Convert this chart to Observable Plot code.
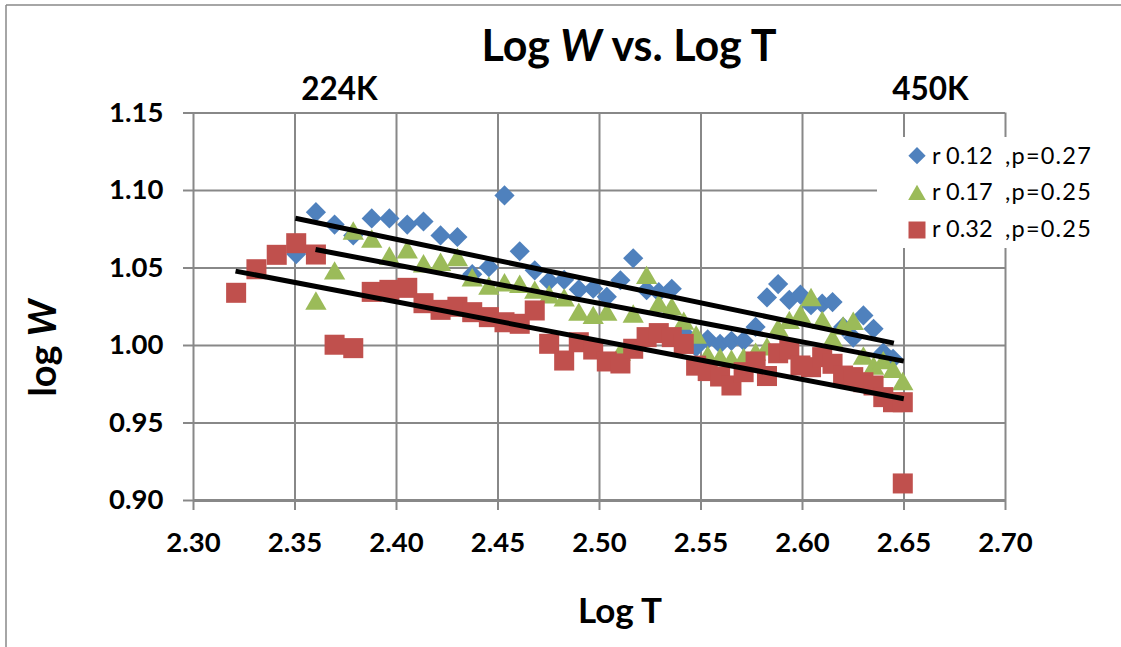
<!DOCTYPE html>
<html>
<head>
<meta charset="utf-8">
<script src="https://cdn.jsdelivr.net/npm/d3@7"></script>
<script src="https://cdn.jsdelivr.net/npm/@observablehq/plot@0.6"></script>
<style>
  html, body { margin: 0; padding: 0; background: white; }
  #chart svg { display: block; }
</style>
</head>
<body>
<div id="chart"></div>
<script>
// ---- data ----
const logT = [2.321, 2.331, 2.341, 2.3506, 2.3603, 2.3695, 2.3787, 2.3878, 2.3965, 2.4053,
  2.4133, 2.4217, 2.4300, 2.4373, 2.4455, 2.4532, 2.4607, 2.4681, 2.4752, 2.4826,
  2.4898, 2.4969, 2.5036, 2.5103, 2.5166, 2.5232, 2.5292, 2.5356, 2.5415, 2.5476,
  2.5533, 2.5594, 2.5650, 2.5710, 2.5769, 2.5825, 2.5880, 2.5935, 2.5990, 2.6042,
  2.6097, 2.6148, 2.6200, 2.6250, 2.6300, 2.6350, 2.6398, 2.6446, 2.6494];

const blueLogW = [null, null, null, 1.059, 1.086, 1.078, 1.071, 1.082, 1.082, 1.078,
  1.080, 1.071, 1.070, 1.046, 1.0505, 1.0968, 1.0608, 1.0485, 1.0415, 1.0424,
  1.0362, 1.0366, 1.0314, 1.0421, 1.0563, 1.0357, 1.0344, 1.0366, 1.008, 0.999,
  1.004, 1.001, 1.003, 1.003, 1.012, 1.031, 1.0396, 1.0295, 1.0328, 1.026,
  1.027, 1.028, 1.012, 1.005, 1.0194, 1.0108, 0.9954, 0.9914, null];

const greenLogW = [null, null, null, null, 1.029, 1.0484, 1.0742, 1.069, 1.058, 1.062,
  1.053, 1.054, 1.057, 1.044, 1.0387, 1.0408, 1.0398, 1.036, 1.033, 1.031,
  1.0218, 1.0197, 1.0218, 0.996, 1.0206, 1.0455, 1.0274, 1.0252, 1.016, 1.007,
  0.994, 0.9925, 0.9914, 0.9925, 0.996, 0.9994, 1.0115, 1.0165, 1.0204, 1.0312,
  1.0165, 1.0048, 1.0129, 1.0159, 0.9935, 0.9871, 0.9905, 0.985, 0.977];

const redLogW = [1.034, 1.0492, 1.0585, 1.066, 1.0587, 1.0005, 0.9983, 1.0346, 1.0359, 1.0372,
  1.0273, 1.023, 1.025, 1.0215, 1.0183, 1.015, 1.014, 1.0226, 1.0011, 0.9903,
  1.0021, 0.9974, 0.9897, 0.9884, 0.9979, 1.0054, 1.008, 1.0054, 1.001, 0.987,
  0.9835, 0.980, 0.9742, 0.9828, 0.9897, 0.9803, 0.995, 0.9974, 0.9871, 0.986,
  0.9925, 0.9882, 0.9806, 0.9796, 0.9763, 0.9742, 0.9667, 0.9634, 0.9634];
const redExtraLogT = [2.6494];
const redExtraLogW = [0.911];

// trend lines (blue, green, red): start / end
const trendT0 = [2.3502, 2.3601, 2.3207];
const trendW0 = [1.0821, 1.0619, 1.0480];
const trendT1 = [2.6450, 2.6499, 2.6499];
const trendW1 = [1.0015, 0.9899, 0.9656];

const seriesNames = ["r 0.12", "r 0.17", "r 0.32"];
const seriesP = [",p=0.27", ",p=0.25", ",p=0.25"];
const xTicks = [2.30, 2.35, 2.40, 2.45, 2.50, 2.55, 2.60, 2.65, 2.70];
const yTicks = [0.90, 0.95, 1.00, 1.05, 1.10, 1.15];
const tempLabels = ["224K", "450K"];

// ---- styling ----
const FONT = "Lato, 'Open Sans', sans-serif";
const GRID = "#888888";
const colors = ["#4F81BD", "#9BBB59", "#C0504D"];

const idx = (arr) => arr.map((v, i) => i).filter(i => arr[i] != null);

const plot = Plot.plot({
  width: 1121,
  height: 647,
  marginLeft: 193,
  marginRight: 116,
  marginTop: 112.5,
  marginBottom: 147,
  style: { fontFamily: FONT, background: "white", overflow: "visible" },
  x: { domain: [2.30, 2.70] },
  y: { domain: [0.90, 1.15] },
  marks: [
    Plot.gridX(xTicks.slice(1), { stroke: GRID, strokeOpacity: 1, strokeWidth: 2 }),
    Plot.gridY(yTicks.slice(1), { stroke: GRID, strokeOpacity: 1, strokeWidth: 2 }),
    Plot.axisX(xTicks, {
      tickFormat: d => d.toFixed(2), tickSize: 10, tickPadding: 22,
      stroke: GRID, strokeWidth: 2, fill: "black",
      fontSize: 27.5, fontWeight: "bold", fontFamily: FONT, label: null
    }),
    Plot.axisY(yTicks, {
      tickFormat: d => d.toFixed(2), tickSize: 10, tickPadding: 20,
      stroke: GRID, strokeWidth: 2, fill: "black",
      fontSize: 27.5, fontWeight: "bold", fontFamily: FONT, label: null
    }),
    Plot.ruleX([2.30], { stroke: GRID, strokeWidth: 2 }),
    Plot.ruleY([0.90], { stroke: GRID, strokeWidth: 3 }),
    Plot.dot(idx(blueLogW), { x: i => logT[i], y: i => blueLogW[i], symbol: "diamond2", r: 9.1, fill: colors[0] }),
    Plot.dot(idx(greenLogW), { x: i => logT[i], y: i => greenLogW[i], symbol: "triangle", r: 7.9, dy: 3, fill: colors[1] }),
    Plot.dot(idx(redLogW), { x: i => logT[i], y: i => redLogW[i], symbol: "square", r: 11.3, fill: colors[2] }),
    Plot.dot(idx(redExtraLogW), { x: i => redExtraLogT[i], y: i => redExtraLogW[i], symbol: "square", r: 11.3, fill: colors[2] }),
    Plot.link(d3.range(trendT0.length), {
      x1: i => trendT0[i], y1: i => trendW0[i], x2: i => trendT1[i], y2: i => trendW1[i],
      stroke: "black", strokeWidth: 5
    })
  ]
});

document.getElementById("chart").appendChild(plot);
const svg = d3.select(plot);

// chart-area border (top and left visible)
svg.append("line").attr("x1", 6).attr("y1", 5).attr("x2", 1121).attr("y2", 5)
  .attr("stroke", GRID).attr("stroke-width", 1.5);
svg.append("line").attr("x1", 6).attr("y1", 5).attr("x2", 6).attr("y2", 647)
  .attr("stroke", GRID).attr("stroke-width", 1.5);

// title
const title = svg.append("text").attr("x", 629).attr("y", 61)
  .attr("text-anchor", "middle").attr("font-family", FONT)
  .attr("font-size", 43).attr("font-weight", "bold").attr("fill", "black");
title.append("tspan").text("Log ");
title.append("tspan").attr("font-style", "italic").text("W");
title.append("tspan").text(" vs. Log T");

// temperature annotations
[[339.5, tempLabels[0]], [930.5, tempLabels[1]]].forEach(([x, t]) => {
  svg.append("text").attr("x", x).attr("y", 100).attr("text-anchor", "middle")
    .attr("font-family", FONT).attr("font-size", 31.5).attr("font-weight", "bold")
    .attr("fill", "black").text(t);
});

// axis titles
svg.append("text").attr("x", 620).attr("y", 623).attr("text-anchor", "middle")
  .attr("font-family", FONT).attr("font-size", 35).attr("font-weight", "bold")
  .attr("fill", "black").text("Log T");
const yt = svg.append("text").attr("transform", "translate(56,348) rotate(-90)")
  .attr("text-anchor", "middle").attr("font-family", FONT).attr("font-size", 38)
  .attr("font-weight", "bold").attr("fill", "black");
yt.append("tspan").text("log ");
yt.append("tspan").attr("font-style", "italic").text("W");

// legend
svg.append("rect").attr("x", 877).attr("y", 137).attr("width", 230).attr("height", 111)
  .attr("fill", "white");
const legendSymbols = [d3.symbolDiamond2, d3.symbolTriangle, d3.symbolSquare];
const legendSizes = [190, 135, 289];
const rowY = [155.7, 192.5, 230];
const baseY = [163.5, 200, 236.5];
legendSymbols.forEach((s, i) => {
  svg.append("path").attr("d", d3.symbol(s, legendSizes[i])())
    .attr("transform", `translate(917,${rowY[i] + (i === 1 ? 2.5 : 0)})`)
    .attr("fill", colors[i]);
  svg.append("text").attr("x", 932).attr("y", baseY[i]).attr("font-family", FONT)
    .attr("font-size", 23.5).attr("fill", "black").attr("text-anchor", "start").text(seriesNames[i]);
  svg.append("text").attr("x", 1005).attr("y", baseY[i]).attr("font-family", FONT)
    .attr("font-size", 23.5).attr("letter-spacing", 1.2).attr("fill", "black")
    .attr("text-anchor", "start").text(seriesP[i]);
});
</script>
</body>
</html>
